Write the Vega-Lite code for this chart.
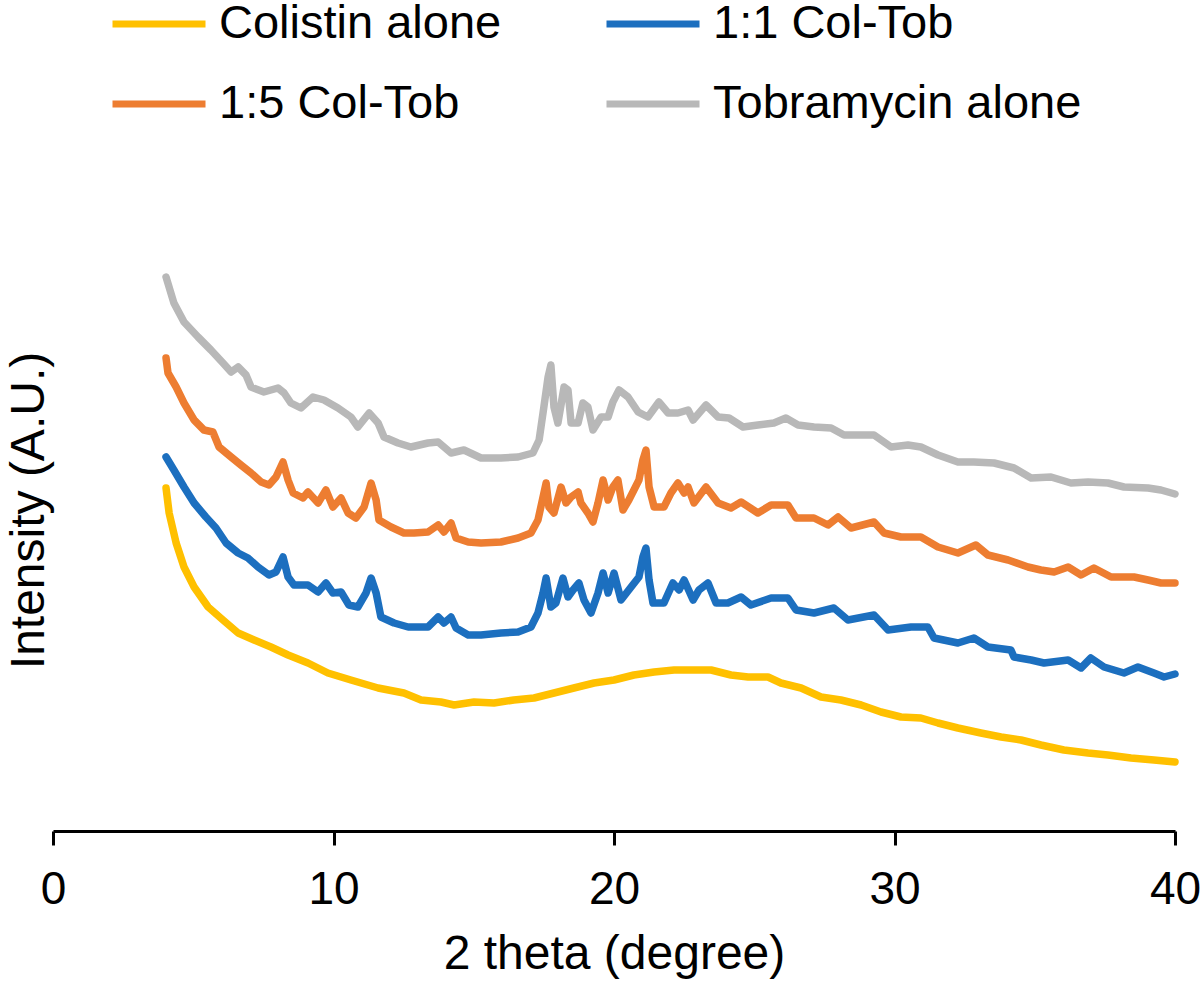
{
  "$schema": "https://vega.github.io/schema/vega-lite/v6.json",
  "width": 1122,
  "height": 680,
  "autosize": {"type": "none"},
  "padding": {"left": 53, "top": 151, "right": 25, "bottom": 150},
  "background": "white",
  "config": {"view": {"stroke": null}, "font": "Liberation Sans"},
  "datasets": {
    "tob": [{"x":4.03,"y":552},{"x":4.31,"y":526},{"x":4.67,"y":507},{"x":5.17,"y":492},{"x":5.63,"y":479},{"x":6.06,"y":466},{"x":6.35,"y":457},{"x":6.6,"y":462},{"x":6.88,"y":454},{"x":7.06,"y":442},{"x":7.52,"y":437},{"x":8.02,"y":441},{"x":8.24,"y":436},{"x":8.48,"y":426},{"x":8.84,"y":421},{"x":9.27,"y":432},{"x":9.66,"y":429},{"x":10.16,"y":421},{"x":10.62,"y":412},{"x":10.87,"y":402},{"x":11.27,"y":416},{"x":11.59,"y":406},{"x":11.8,"y":392},{"x":12.3,"y":386},{"x":12.76,"y":382},{"x":13.37,"y":386},{"x":13.73,"y":387},{"x":14.19,"y":376},{"x":14.65,"y":379},{"x":15.26,"y":371},{"x":15.97,"y":371},{"x":16.58,"y":372},{"x":17.11,"y":376},{"x":17.33,"y":389},{"x":17.5,"y":422},{"x":17.65,"y":452},{"x":17.75,"y":464},{"x":17.86,"y":422},{"x":18.0,"y":406},{"x":18.22,"y":442},{"x":18.36,"y":439},{"x":18.47,"y":406},{"x":18.72,"y":406},{"x":18.89,"y":426},{"x":19.07,"y":422},{"x":19.25,"y":399},{"x":19.54,"y":412},{"x":19.79,"y":412},{"x":19.96,"y":427},{"x":20.18,"y":439},{"x":20.5,"y":432},{"x":20.86,"y":417},{"x":21.21,"y":412},{"x":21.6,"y":427},{"x":21.93,"y":416},{"x":22.28,"y":416},{"x":22.64,"y":419},{"x":22.82,"y":409},{"x":23.28,"y":424},{"x":23.71,"y":412},{"x":24.1,"y":411},{"x":24.6,"y":402},{"x":25.13,"y":404},{"x":25.7,"y":406},{"x":26.13,"y":411},{"x":26.56,"y":404},{"x":27.13,"y":402},{"x":27.74,"y":401},{"x":28.2,"y":394},{"x":28.81,"y":394},{"x":29.27,"y":394},{"x":29.88,"y":382},{"x":30.48,"y":384},{"x":30.94,"y":382},{"x":31.55,"y":374},{"x":32.26,"y":367},{"x":32.83,"y":367},{"x":33.55,"y":366},{"x":34.26,"y":361},{"x":34.87,"y":351},{"x":35.58,"y":352},{"x":36.29,"y":346},{"x":36.9,"y":347},{"x":37.61,"y":346},{"x":38.18,"y":342},{"x":39.04,"y":341},{"x":39.5,"y":339},{"x":40.0,"y":335}],
    "r15": [{"x":4.03,"y":471},{"x":4.1,"y":456},{"x":4.39,"y":442},{"x":4.67,"y":426},{"x":5.03,"y":409},{"x":5.38,"y":399},{"x":5.7,"y":397},{"x":5.92,"y":382},{"x":6.35,"y":372},{"x":6.7,"y":364},{"x":7.06,"y":356},{"x":7.42,"y":347},{"x":7.7,"y":344},{"x":7.95,"y":352},{"x":8.2,"y":367},{"x":8.38,"y":349},{"x":8.56,"y":336},{"x":8.91,"y":331},{"x":9.09,"y":337},{"x":9.45,"y":326},{"x":9.73,"y":339},{"x":9.98,"y":322},{"x":10.27,"y":331},{"x":10.52,"y":316},{"x":10.8,"y":311},{"x":11.09,"y":322},{"x":11.34,"y":346},{"x":11.52,"y":329},{"x":11.62,"y":309},{"x":12.05,"y":302},{"x":12.51,"y":296},{"x":12.87,"y":296},{"x":13.37,"y":297},{"x":13.73,"y":304},{"x":13.94,"y":297},{"x":14.19,"y":306},{"x":14.37,"y":291},{"x":14.8,"y":287},{"x":15.26,"y":286},{"x":15.97,"y":287},{"x":16.58,"y":291},{"x":17.04,"y":296},{"x":17.29,"y":309},{"x":17.47,"y":332},{"x":17.58,"y":346},{"x":17.68,"y":322},{"x":17.86,"y":316},{"x":18.11,"y":342},{"x":18.29,"y":326},{"x":18.47,"y":332},{"x":18.72,"y":337},{"x":18.82,"y":326},{"x":19.07,"y":316},{"x":19.25,"y":307},{"x":19.43,"y":326},{"x":19.61,"y":349},{"x":19.79,"y":329},{"x":19.96,"y":342},{"x":20.14,"y":349},{"x":20.32,"y":319},{"x":20.53,"y":329},{"x":20.71,"y":339},{"x":20.89,"y":349},{"x":21.03,"y":369},{"x":21.14,"y":379},{"x":21.25,"y":342},{"x":21.43,"y":322},{"x":21.78,"y":322},{"x":22.03,"y":336},{"x":22.28,"y":346},{"x":22.5,"y":336},{"x":22.64,"y":342},{"x":22.85,"y":326},{"x":23.28,"y":342},{"x":23.71,"y":326},{"x":24.17,"y":321},{"x":24.53,"y":327},{"x":25.13,"y":316},{"x":25.6,"y":324},{"x":26.2,"y":324},{"x":26.49,"y":311},{"x":27.13,"y":311},{"x":27.63,"y":304},{"x":27.99,"y":312},{"x":28.45,"y":301},{"x":29.27,"y":307},{"x":29.63,"y":296},{"x":30.23,"y":292},{"x":30.94,"y":292},{"x":31.55,"y":282},{"x":32.26,"y":276},{"x":32.9,"y":284},{"x":33.33,"y":274},{"x":34.05,"y":269},{"x":34.76,"y":262},{"x":35.22,"y":259},{"x":35.69,"y":257},{"x":36.19,"y":262},{"x":36.65,"y":254},{"x":37.11,"y":261},{"x":37.72,"y":252},{"x":38.54,"y":252},{"x":39.04,"y":249},{"x":39.5,"y":246},{"x":40.0,"y":246}],
    "r11": [{"x":4.03,"y":372},{"x":4.31,"y":359},{"x":4.67,"y":342},{"x":5.03,"y":326},{"x":5.45,"y":312},{"x":5.81,"y":301},{"x":6.17,"y":286},{"x":6.6,"y":276},{"x":6.95,"y":271},{"x":7.31,"y":262},{"x":7.7,"y":254},{"x":7.95,"y":257},{"x":8.2,"y":272},{"x":8.38,"y":252},{"x":8.59,"y":244},{"x":9.09,"y":244},{"x":9.45,"y":237},{"x":9.73,"y":246},{"x":9.98,"y":236},{"x":10.27,"y":237},{"x":10.55,"y":224},{"x":10.87,"y":222},{"x":11.16,"y":236},{"x":11.34,"y":251},{"x":11.52,"y":236},{"x":11.69,"y":212},{"x":12.16,"y":206},{"x":12.66,"y":202},{"x":12.87,"y":202},{"x":13.37,"y":202},{"x":13.73,"y":212},{"x":13.94,"y":206},{"x":14.19,"y":212},{"x":14.37,"y":201},{"x":14.8,"y":194},{"x":15.26,"y":194},{"x":15.97,"y":196},{"x":16.58,"y":197},{"x":17.04,"y":202},{"x":17.29,"y":216},{"x":17.47,"y":236},{"x":17.58,"y":251},{"x":17.75,"y":222},{"x":17.93,"y":226},{"x":18.18,"y":251},{"x":18.36,"y":232},{"x":18.54,"y":239},{"x":18.75,"y":246},{"x":18.93,"y":229},{"x":19.18,"y":216},{"x":19.43,"y":236},{"x":19.61,"y":256},{"x":19.79,"y":236},{"x":20.0,"y":256},{"x":20.25,"y":229},{"x":20.61,"y":242},{"x":20.89,"y":252},{"x":21.03,"y":272},{"x":21.14,"y":281},{"x":21.25,"y":249},{"x":21.39,"y":226},{"x":21.78,"y":226},{"x":22.1,"y":246},{"x":22.32,"y":239},{"x":22.5,"y":249},{"x":22.82,"y":229},{"x":23.03,"y":239},{"x":23.35,"y":246},{"x":23.64,"y":226},{"x":24.06,"y":226},{"x":24.53,"y":232},{"x":24.88,"y":224},{"x":25.6,"y":231},{"x":26.2,"y":231},{"x":26.49,"y":219},{"x":27.13,"y":216},{"x":27.84,"y":221},{"x":28.34,"y":209},{"x":29.27,"y":214},{"x":29.77,"y":199},{"x":30.59,"y":202},{"x":31.19,"y":202},{"x":31.41,"y":191},{"x":32.26,"y":186},{"x":32.83,"y":191},{"x":33.33,"y":182},{"x":34.15,"y":179},{"x":34.26,"y":172},{"x":34.87,"y":169},{"x":35.33,"y":166},{"x":36.19,"y":169},{"x":36.65,"y":161},{"x":37.0,"y":171},{"x":37.47,"y":162},{"x":38.18,"y":156},{"x":38.68,"y":162},{"x":39.25,"y":156},{"x":39.61,"y":152},{"x":40.0,"y":155}],
    "col": [{"x":4.03,"y":341},{"x":4.14,"y":316},{"x":4.39,"y":286},{"x":4.67,"y":262},{"x":5.03,"y":242},{"x":5.53,"y":222},{"x":6.06,"y":209},{"x":6.6,"y":196},{"x":7.17,"y":189},{"x":7.77,"y":182},{"x":8.38,"y":174},{"x":9.09,"y":166},{"x":9.8,"y":156},{"x":10.62,"y":149},{"x":11.59,"y":141},{"x":12.51,"y":136},{"x":13.12,"y":129},{"x":13.83,"y":127},{"x":14.3,"y":124},{"x":15.01,"y":127},{"x":15.72,"y":126},{"x":16.43,"y":129},{"x":17.15,"y":131},{"x":17.86,"y":136},{"x":18.57,"y":141},{"x":19.29,"y":146},{"x":20.0,"y":149},{"x":20.71,"y":154},{"x":21.43,"y":157},{"x":22.14,"y":159},{"x":22.85,"y":159},{"x":23.46,"y":159},{"x":24.17,"y":154},{"x":24.78,"y":152},{"x":25.49,"y":152},{"x":25.95,"y":146},{"x":26.67,"y":141},{"x":27.38,"y":132},{"x":28.09,"y":129},{"x":28.81,"y":124},{"x":29.52,"y":117},{"x":30.23,"y":112},{"x":30.94,"y":111},{"x":31.55,"y":106},{"x":32.26,"y":101},{"x":33.08,"y":96},{"x":33.8,"y":92},{"x":34.51,"y":89},{"x":35.22,"y":84},{"x":36.04,"y":79},{"x":36.9,"y":76},{"x":37.61,"y":74},{"x":38.43,"y":71},{"x":39.25,"y":69},{"x":40.0,"y":67}]
  },
  "encoding": {
    "x": {
      "field": "x", "type": "quantitative",
      "scale": {"domain": [0, 40], "nice": false, "zero": false},
      "axis": {
        "values": [0, 10, 20, 30, 40], "grid": false,
        "domainColor": "#000000", "domainWidth": 3,
        "tickColor": "#000000", "tickWidth": 3, "tickSize": 14,
        "labelFont": "Liberation Sans", "labelFontSize": 46, "labelColor": "#000000",
        "labelBaseline": "alphabetic", "labelPadding": 58, "labelFlush": false,
        "title": "2 theta (degree)", "titleFont": "Liberation Sans", "titleFontSize": 48,
        "titleFontWeight": "normal", "titleColor": "#000000",
        "titleBaseline": "alphabetic", "titleX": 561, "titleY": 137, "titleAlign": "center"
      }
    },
    "y": {
      "field": "y", "type": "quantitative",
      "scale": {"domain": [-2, 678], "nice": false, "zero": false},
      "axis": {
        "domain": false, "ticks": false, "labels": false, "grid": false,
        "title": "Intensity (A.U.)", "titleFont": "Liberation Sans", "titleFontSize": 48,
        "titleFontWeight": "normal", "titleColor": "#000000",
        "titleAngle": -90, "titleBaseline": "alphabetic", "titleAlign": "center",
        "titleX": -10, "titleY": 359
      }
    },
    "color": {
      "type": "nominal",
      "scale": {
        "domain": ["Colistin alone", "1:1 Col-Tob", "1:5 Col-Tob", "Tobramycin alone"],
        "range": ["#FFC000", "#1C6FBF", "#ED7D31", "#B8B8B8"]
      },
      "legend": {
        "title": null, "orient": "none", "legendX": 56, "legendY": -177,
        "columns": 2, "direction": "horizontal", "padding": 0,
        "symbolType": "stroke", "symbolSize": 8649, "symbolStrokeWidth": 7,
        "labelFont": "Liberation Sans", "labelFontSize": 47, "labelColor": "#000000",
        "labelOffset": 10, "columnPadding": 90, "rowPadding": 7,
        "labelLimit": 600
      }
    }
  },
  "layer": [
    {"data": {"name": "col"}, "mark": {"type": "line", "strokeWidth": 7.5, "strokeCap": "round", "strokeJoin": "round"}, "encoding": {"color": {"datum": "Colistin alone"}}},
    {"data": {"name": "r11"}, "mark": {"type": "line", "strokeWidth": 7.5, "strokeCap": "round", "strokeJoin": "round"}, "encoding": {"color": {"datum": "1:1 Col-Tob"}}},
    {"data": {"name": "r15"}, "mark": {"type": "line", "strokeWidth": 7.5, "strokeCap": "round", "strokeJoin": "round"}, "encoding": {"color": {"datum": "1:5 Col-Tob"}}},
    {"data": {"name": "tob"}, "mark": {"type": "line", "strokeWidth": 7.5, "strokeCap": "round", "strokeJoin": "round"}, "encoding": {"color": {"datum": "Tobramycin alone"}}}
  ]
}
